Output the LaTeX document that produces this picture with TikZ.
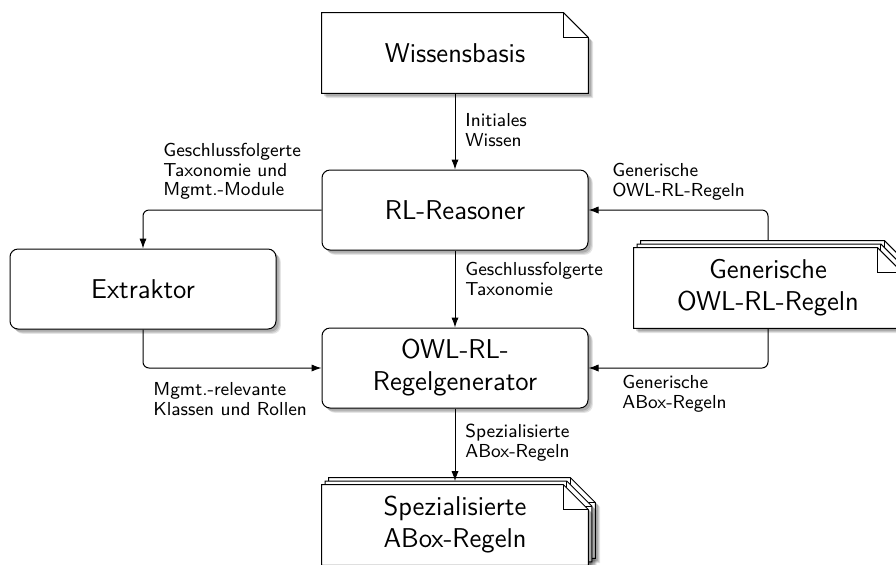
\documentclass[tikz,border=0pt]{standalone}
\usetikzlibrary{shadows,calc,arrows.meta}
\pgfdeclarelayer{background}
\pgfdeclarelayer{canvas}
\pgfsetlayers{canvas,background,main}
\newcommand\bigfont{\sffamily\fontsize{13.6}{16}\selectfont}
\newcommand\smallfont{\sffamily\fontsize{9.4}{9.8}\selectfont}
\tikzset{softshadow/.style={
  drop shadow={shadow xshift=2.4pt,shadow yshift=-2.4pt,opacity=0.10,fill=black},
  drop shadow={shadow xshift=1.9pt,shadow yshift=-1.9pt,opacity=0.12,fill=black},
  drop shadow={shadow xshift=1.3pt,shadow yshift=-1.3pt,opacity=0.15,fill=black}}}
% document outline: #1 node, #2 dx, #3 dy
\newcommand\mydocsheet[3]{%
  \path[docline,softshadow]
    ($(#1.north west)+(#2,#3)$) -- ($(#1.north east)+(#2-25,#3)$) --
    ($(#1.north east)+(#2,#3+25)$) -- ($(#1.south east)+(#2,#3)$) --
    ($(#1.south west)+(#2,#3)$) -- cycle;
  \draw[line width=0.5pt] ($(#1.north east)+(#2-25,#3)$) -- ($(#1.north east)+(#2-25,#3+25)$) -- ($(#1.north east)+(#2,#3+25)$);}
\begin{document}
\begin{tikzpicture}[x=0.5pt,y=-0.5pt,
  box/.style={draw,fill=white,rounded corners=4pt,line width=0.5pt,
    minimum width=133pt,minimum height=40pt,align=center,font=\bigfont,softshadow},
  docnode/.style={minimum width=133pt,minimum height=40pt,inner sep=0pt,align=center,font=\bigfont},
  docline/.style={draw,fill=white,line width=0.5pt},
  lbl/.style={font=\smallfont,align=left,inner sep=0pt,anchor=north west},
  conn/.style={-{Latex[length=5pt,width=3.6pt]},rounded corners=3pt,line width=0.5pt}]
\useasboundingbox (0,0) rectangle (896,564);
\clip (0,0) rectangle (896,564);
\begin{pgfonlayer}{canvas}
\fill[white] (0,0) rectangle (896,564);
\end{pgfonlayer}

% boxes
\node[box] (rl) at (455,210) {RL-Reasoner};
\node[box] (ex) at (143,289) {Extraktor};
\node[box] (gen) at (455,368) {OWL-RL-\\Regelgenerator};

% documents (text nodes)
\node[docnode] (wiss) at (455,53) {Wissensbasis};
\node[docnode,minimum width=134pt] (gdoc) at (768,288) {Generische\\OWL-RL-Regeln};
\node[docnode] (spez) at (455,525) {Spezialisierte\\ABox-Regeln};

\begin{pgfonlayer}{background}
  \mydocsheet{wiss}{0}{0}
  \mydocsheet{gdoc}{7}{-7}
  \mydocsheet{gdoc}{3.5}{-3.5}
  \mydocsheet{gdoc}{0}{0}
  \mydocsheet{spez}{7}{-7}
  \mydocsheet{spez}{3.5}{-3.5}
  \mydocsheet{spez}{0}{0}
\end{pgfonlayer}

% connectors
\coordinate (gtop) at ($(gdoc.north)+(0,-7)$);
\coordinate (stop) at ($(spez.north)+(0,-3.5)$);
\draw[conn] (wiss.south) -- (rl.north);
\draw[conn] (rl.west) -| (ex.north);
\draw[conn] (ex.south) |- (gen.west);
\draw[conn] (rl.south) -- (gen.north);
\draw[conn] (gtop) |- (rl.east);
\draw[conn] (gdoc.south) |- (gen.east);
\draw[conn] (gen.south) -- (stop);

% labels
\node[lbl] (l1) at (465,113) {Initiales\\Wissen};
\node[lbl] (l2) at (163,143) {Geschlussfolgerte\\Taxonomie und\\Mgmt.-Module};
\node[lbl] (l3) at (612,163) {Generische\\OWL-RL-Regeln};
\node[lbl] (l4) at (465,262) {Geschlussfolgerte\\Taxonomie};
\node[lbl] (l5) at (153,382) {Mgmt.-relevante\\Klassen und Rollen};
\node[lbl] (l6) at (622,375) {Generische\\ABox-Regeln};
\node[lbl] (l7) at (465,424) {Spezialisierte\\ABox-Regeln};
\end{tikzpicture}
\end{document}
